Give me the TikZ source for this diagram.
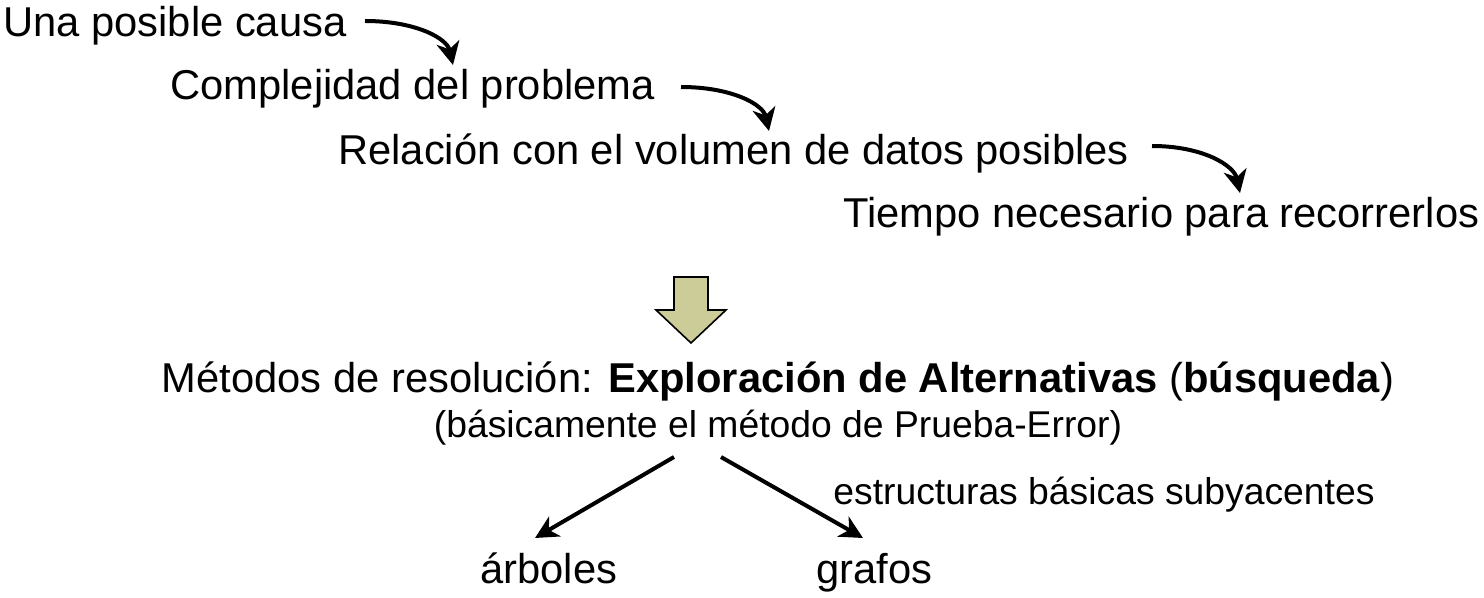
\documentclass[tikz,border=0pt]{standalone}
\usepackage{fontspec}
\setmainfont{Liberation Sans}
\usetikzlibrary{arrows.meta}
\definecolor{khaki}{RGB}{204,204,153}
\tikzset{
  big/.style={anchor=base west, inner sep=0pt, font=\fontsize{20.85}{25}\selectfont},
  small/.style={anchor=base west, inner sep=0pt, font=\fontsize{18.65}{22}\selectfont},
  conn/.style={line width=2pt, -{Stealth[length=11.5pt,width=11.5pt,inset=3.5pt]}},
  blockarrow/.style={draw=black, line width=0.8pt, fill=khaki, line join=miter}
}
\begin{document}
\begin{tikzpicture}[x=0.5pt,y=-0.5pt]
\useasboundingbox (0,0) rectangle (1484,598);
% cascade of causes
\node[big] (t1) at (3,37) {Una posible causa};
\node[big] (t2) at (170,100) {Complejidad del problema};
\node[big] (t3) at (338,165) {Relación con el volumen de datos posibles};
\node[big] (t4) at (843,228) {Tiempo necesario para recorrerlos};
\coordinate (a1s) at (365,21);  \coordinate (a1e) at (453,65);
\coordinate (a2s) at (681,87);  \coordinate (a2e) at (769,131);
\coordinate (a3s) at (1152,146); \coordinate (a3e) at (1240,193);
\draw[conn] (a1s) .. controls (415,21) and (447,38) .. (a1e);
\draw[conn] (a2s) .. controls (731,87) and (763,104) .. (a2e);
\draw[conn] (a3s) .. controls (1202,146) and (1234,165) .. (a3e);
% block arrow
\draw[blockarrow] (674,277) -- (708,277) -- (708,310) -- (726,310) -- (691,343) -- (656,310) -- (674,310) -- cycle;
% methods
\node[anchor=base, inner sep=0pt, font=\fontsize{20.85}{25}\selectfont] (m) at (778,393)
  {Métodos de resolución: \textbf{Exploración de Alternativas} (\textbf{búsqueda})};
\node[anchor=base, inner sep=0pt, font=\fontsize{18.65}{22}\selectfont] (p) at (778,438)
  {(básicamente el método de Prueba-Error)};
\node[small] (e) at (833,505) {estructuras básicas subyacentes};
\node[big] (arb) at (480,583) {árboles};
\node[big] (gra) at (816,583) {grafos};
\coordinate (l1s) at (674,457); \coordinate (l1e) at (535,538);
\coordinate (l2s) at (721,457); \coordinate (l2e) at (863,538);
\draw[conn] (l1s) -- (l1e);
\draw[conn] (l2s) -- (l2e);
\end{tikzpicture}
\end{document}
